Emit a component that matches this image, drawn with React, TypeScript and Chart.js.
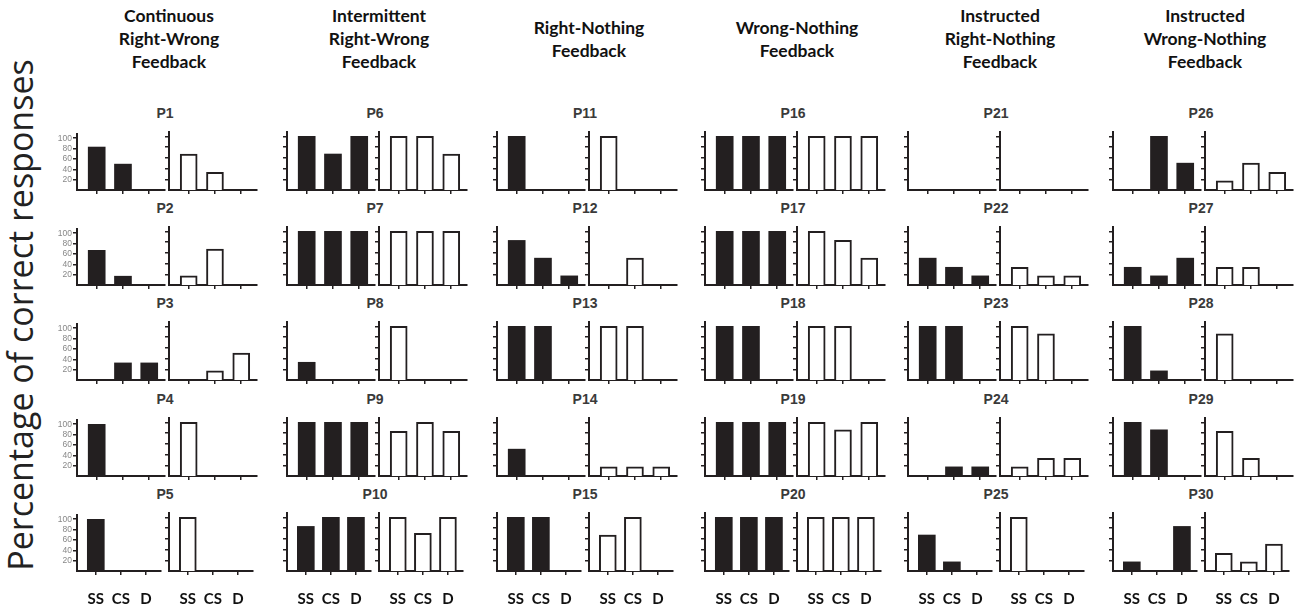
import React, { useEffect, useRef } from "react";
import { Chart, registerables } from "chart.js";

Chart.register(...registerables);

const categories = ["SS", "CS", "D"];
const yTicks = [20, 40, 60, 80, 100];

const conditions = [
  ["Continuous", "Right-Wrong", "Feedback"],
  ["Intermittent", "Right-Wrong", "Feedback"],
  ["Right-Nothing", "Feedback"],
  ["Wrong-Nothing", "Feedback"],
  ["Instructed", "Right-Nothing", "Feedback"],
  ["Instructed", "Wrong-Nothing", "Feedback"],
];

const participants = Array.from({ length: 30 }, (_, i) => `P${i + 1}`);

// filled bars (left half of each panel), P1..P30
const filledScores = [
  [83, 50, 0], [67, 17, 0], [0, 33, 33], [100, 0, 0], [100, 0, 0],
  [100, 67, 100], [100, 100, 100], [33, 0, 0], [100, 100, 100], [83, 100, 100],
  [100, 0, 0], [83, 50, 17], [100, 100, 0], [50, 0, 0], [100, 100, 0],
  [100, 100, 100], [100, 100, 100], [100, 100, 0], [100, 100, 100], [100, 100, 100],
  [0, 0, 0], [50, 33, 17], [100, 100, 0], [0, 17, 17], [67, 17, 0],
  [0, 100, 50], [33, 17, 50], [100, 17, 0], [100, 86, 0], [17, 0, 83],
];

// open bars (right half of each panel), P1..P30
const openScores = [
  [67, 33, 0], [17, 67, 0], [0, 17, 50], [100, 0, 0], [100, 0, 0],
  [100, 100, 67], [100, 100, 100], [100, 0, 0], [83, 100, 83], [100, 70, 100],
  [100, 0, 0], [0, 50, 0], [100, 100, 0], [17, 17, 17], [67, 100, 0],
  [100, 100, 100], [100, 83, 50], [100, 100, 0], [100, 86, 100], [100, 100, 100],
  [0, 0, 0], [33, 17, 17], [100, 86, 0], [17, 33, 33], [100, 0, 0],
  [17, 50, 33], [33, 33, 0], [86, 0, 0], [83, 33, 0], [33, 17, 50],
];

// layout
const colAxisX = [77, 287, 497, 705, 908, 1113];
const rowBaseY = [190, 285, 380, 476, 571];
const HALF_GAP = 92;
const Y_AXIS_W = 30;
const PLOT_W = 88;
const PLOT_H = 58;
const TOP_PAD = 4;
const X_AXIS_H = 44;
const INK = "#231f20";

Chart.defaults.font.family = "'Liberation Sans', Arial, sans-serif";

interface BarBoxProps {
  values: number[];
  filled: boolean;
  showY: boolean;
  showX: boolean;
  left: number;
  top: number;
}

const BarBox = ({ values, filled, showY, showX, left, top }: BarBoxProps) => {
  const canvasRef = useRef<HTMLCanvasElement>(null);

  useEffect(() => {
    if (!canvasRef.current) return;
    const chart = new Chart(canvasRef.current, {
      type: "bar",
      data: {
        datasets: [
          {
            data: values.map((v, i) => ({ x: i, y: v })),
            backgroundColor: filled ? INK : "#ffffff",
            borderColor: INK,
            borderWidth: filled ? 0 : 2,
            borderSkipped: "start",
            barThickness: 17,
          },
        ],
      },
      options: {
        animation: false,
        responsive: false,
        maintainAspectRatio: false,
        events: [],
        layout: { padding: { top: TOP_PAD, right: 2, left: 0, bottom: 0 } },
        plugins: { legend: { display: false }, tooltip: { enabled: false } },
        scales: {
          x: {
            type: "linear",
            min: -0.75,
            max: 2.6,
            offset: false,
            afterBuildTicks: (s: any) => {
              s.ticks = categories.map((_, i) => ({ value: i }));
            },
            afterFit: (s: any) => {
              s.height = X_AXIS_H;
            },
            grid: { offset: false, drawOnChartArea: false, drawTicks: true, tickLength: 4, color: INK, lineWidth: 1.5 },
            border: { display: true, color: INK, width: 2 },
            ticks: {
              display: showX,
              autoSkip: false,
              maxRotation: 0,
              padding: 15,
              color: "#111",
              font: { family: "Lato", weight: "bold", size: 15 },
              callback: (v: any) => categories[v as number] ?? "",
            },
          },
          y: {
            min: 0,
            max: 108,
            afterBuildTicks: (s: any) => {
              s.ticks = yTicks.map((v) => ({ value: v }));
            },
            afterFit: (s: any) => {
              s.width = Y_AXIS_W;
            },
            grid: { drawOnChartArea: false, drawTicks: true, tickLength: 4, color: INK, lineWidth: 1.5 },
            border: { display: true, color: INK, width: 2 },
            ticks: { display: showY, padding: 1, color: "#888", font: { size: 8.5 } },
          },
        },
      },
    });
    return () => chart.destroy();
  }, [values, filled, showY, showX]);

  return (
    <canvas
      ref={canvasRef}
      width={Y_AXIS_W + PLOT_W + 2}
      height={TOP_PAD + PLOT_H + X_AXIS_H}
      style={{ position: "absolute", left, top }}
    />
  );
};

const App = () => {
  const boxes: React.ReactNode[] = [];
  const titles: React.ReactNode[] = [];

  colAxisX.forEach((ax, c) => {
    rowBaseY.forEach((by, r) => {
      const idx = c * 5 + r;
      const top = by - PLOT_H - TOP_PAD;
      boxes.push(
        <BarBox key={`f${idx}`} values={filledScores[idx]} filled showY={c === 0} showX={r === 4} left={ax - Y_AXIS_W} top={top} />,
        <BarBox key={`o${idx}`} values={openScores[idx]} filled={false} showY={false} showX={r === 4} left={ax + HALF_GAP - Y_AXIS_W} top={top} />
      );
      titles.push(
        <div
          key={`t${idx}`}
          style={{
            position: "absolute",
            left: ax + HALF_GAP - 4,
            top: by - 77,
            transform: "translate(-50%, -50%)",
            font: "bold 14px 'Liberation Sans', Arial, sans-serif",
            color: "#3a3a3a",
          }}
        >
          {participants[idx]}
        </div>
      );
    });
  });

  return (
    <div style={{ position: "fixed", left: 0, top: 0, width: 1299, height: 612, background: "#fff", overflow: "hidden" }}>
      <div
        style={{
          position: "absolute",
          left: 20,
          top: 315,
          transform: "translate(-50%, -50%) rotate(-90deg)",
          whiteSpace: "nowrap",
          font: "34px 'Open Sans', sans-serif",
          color: "#222",
        }}
      >
        Percentage of correct responses
      </div>
      {conditions.map((lines, c) => (
        <div
          key={`h${c}`}
          style={{
            position: "absolute",
            left: colAxisX[c] + HALF_GAP,
            top: lines.length === 3 ? 4 : 16,
            transform: "translateX(-50%)",
            textAlign: "center",
            whiteSpace: "nowrap",
            font: "bold 17.5px/23px Lato, sans-serif",
            color: "#111",
          }}
        >
          {lines.map((l) => (
            <div key={l}>{l}</div>
          ))}
        </div>
      ))}
      {titles}
      {boxes}
    </div>
  );
};

export default App;
